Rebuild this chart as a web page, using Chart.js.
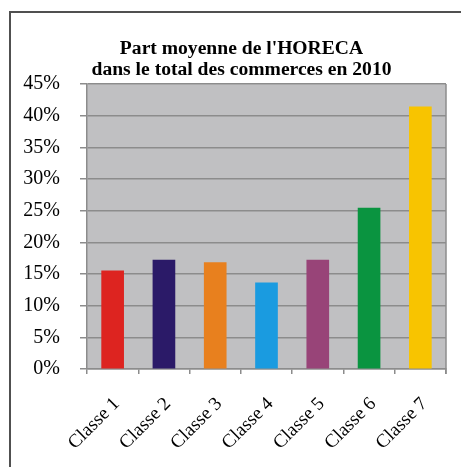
<!DOCTYPE html>
<html>
<head>
<meta charset="utf-8">
<script src="https://cdn.jsdelivr.net/npm/chart.js@4/dist/chart.umd.min.js"></script>
<style>
html,body{margin:0;padding:0;background:#fff;}
#wrap{position:relative;width:461px;height:467px;}
#frame{position:absolute;left:9px;top:11px;width:470px;height:470px;border:2px solid #505050;box-sizing:border-box;}
canvas{position:absolute;left:0;top:0;}
</style>
</head>
<body>
<div id="wrap"><div id="frame"></div><canvas id="c" width="461" height="467"></canvas></div>
<script>
const categories = ['Classe 1','Classe 2','Classe 3','Classe 4','Classe 5','Classe 6','Classe 7'];
const values = [0.155, 0.172, 0.168, 0.136, 0.172, 0.254, 0.414];
const barColors = ['#dd2420','#2b1a68','#e8801e','#1a9be0','#984478','#0a9440','#f8c400'];
const titleLines = ["Part moyenne de l'HORECA", 'dans le total des commerces en 2010'];

const plotBg = {
  id: 'plotBg',
  beforeDraw(chart) {
    const a = chart.chartArea, ctx = chart.ctx;
    ctx.save();
    ctx.fillStyle = '#c0c0c2';
    ctx.fillRect(a.left, a.top, a.right - a.left, a.bottom - a.top);
    ctx.strokeStyle = '#8c8c8c';
    ctx.lineWidth = 1.5;
    ctx.beginPath();
    ctx.moveTo(a.right, a.top);
    ctx.lineTo(a.right, a.bottom + 5);
    ctx.stroke();
    ctx.restore();
  }
};

new Chart(document.getElementById('c'), {
  type: 'bar',
  data: {
    labels: categories,
    datasets: [{ data: values, backgroundColor: barColors, borderWidth: 0, barThickness: 22, yAxisID: 'y' }]
  },
  plugins: [plotBg],
  options: {
    responsive: false,
    animation: false,
    layout: { padding: { left: 22, right: 0, top: 0, bottom: 0 } },
    plugins: {
      legend: { display: false },
      tooltip: { enabled: false },
      title: {
        display: true,
        text: titleLines,
        color: '#000',
        font: { family: "'Liberation Serif', 'Times New Roman', serif", size: 19.6, weight: 'bold', lineHeight: 1.1 },
        padding: { top: 38, bottom: 3 }
      }
    },
    scales: {
      x: {
        grid: { drawOnChartArea: false, drawTicks: true, tickLength: 5, color: '#8c8c8c', lineWidth: 1.5, offset: true },
        border: { display: true, color: '#8c8c8c', width: 1.5 },
        ticks: {
          minRotation: 45, maxRotation: 45, padding: 19, labelOffset: 4,
          color: '#000',
          font: { family: "'Liberation Serif', 'Times New Roman', serif", size: 19 }
        },
        afterFit(scale) { scale.height = 98; }
      },
      y: {
        min: 0, max: 0.45,
        grid: { color: '#8c8c8c', lineWidth: 1.5, tickLength: 7, drawTicks: true },
        border: { display: true, color: '#8c8c8c', width: 1.5 },
        ticks: {
          stepSize: 0.05, padding: 20, color: '#000',
          font: { family: "'Liberation Serif', 'Times New Roman', serif", size: 20 },
          callback: v => Math.round(v * 100) + '%'
        },
        afterFit(scale) { scale.width = 65; }
      },
      spacer: {
        type: 'linear', position: 'right', min: 0, max: 1,
        grid: { display: false }, border: { display: false },
        ticks: { display: false },
        afterFit(scale) { scale.width = 15; }
      }
    }
  }
});
</script>
</body>
</html>
